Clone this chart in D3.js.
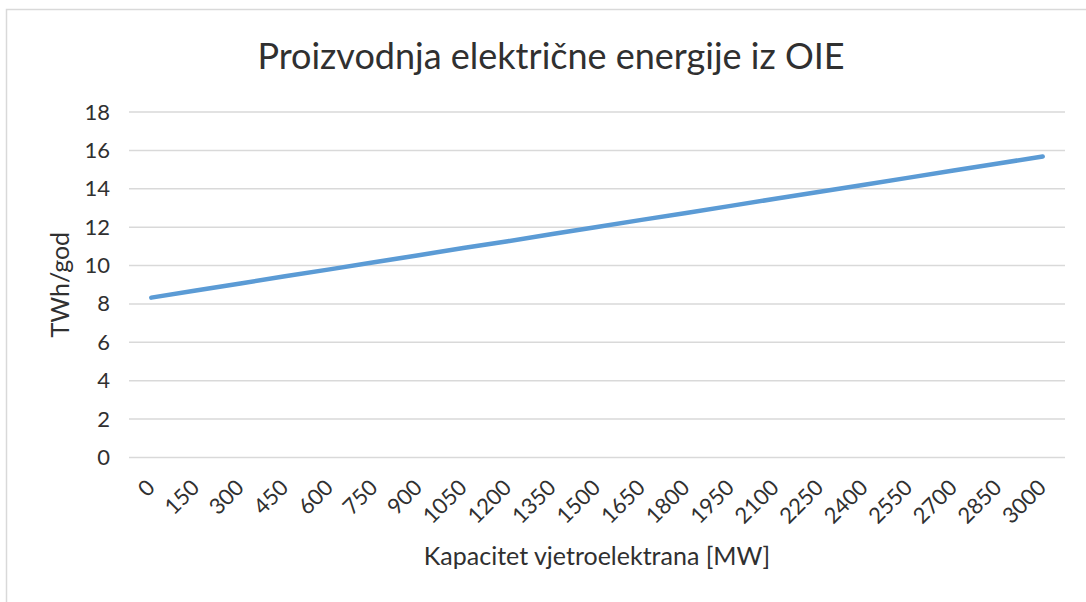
<!DOCTYPE html>
<html>
<head>
<meta charset="utf-8">
<script src="https://cdn.jsdelivr.net/npm/d3@7"></script>
<style>
  html, body { margin: 0; padding: 0; background: #fff; }
  svg { display: block; }
  text { font-family: Lato, "Open Sans", sans-serif; fill: #303030; }
</style>
</head>
<body>
<svg id="chart" width="1086" height="602"></svg>
<script>
// Installed wind capacity (MW) and annual production from renewables (TWh/year)
const capacities = [0, 150, 300, 450, 600, 750, 900, 1050, 1200, 1350, 1500,
                    1650, 1800, 1950, 2100, 2250, 2400, 2550, 2700, 2850, 3000];
const production = [8.33, 8.70, 9.07, 9.44, 9.80, 10.17, 10.54, 10.91, 11.27, 11.64, 12.01,
                    12.38, 12.74, 13.11, 13.48, 13.85, 14.21, 14.58, 14.95, 15.32, 15.68];
const yTicks = [0, 2, 4, 6, 8, 10, 12, 14, 16, 18];

const titleText = "Proizvodnja električne energije iz OIE";
const xTitle = "Kapacitet vjetroelektrana [MW]";
const yTitle = "TWh/god";

const textColor = "#303030";
const svg = d3.select("#chart");
const plot = { left: 129, right: 1065, top: 112, bottom: 457.5 };

// chart frame
svg.append("rect")
  .attr("x", 6.5).attr("y", 9.5)
  .attr("width", 1100).attr("height", 620)
  .attr("fill", "#fff")
  .attr("stroke", "#d9d9d9").attr("stroke-width", 1.5);

const x = d3.scaleBand()
  .domain(capacities)
  .range([plot.left, plot.right]);

const y = d3.scaleLinear()
  .domain([0, 18])
  .range([plot.bottom, plot.top]);

// horizontal gridlines
svg.append("g")
  .selectAll("line")
  .data(yTicks)
  .join("line")
  .attr("x1", plot.left).attr("x2", plot.right)
  .attr("y1", d => y(d)).attr("y2", d => y(d))
  .attr("stroke", "#d9d9d9").attr("stroke-width", 1.5);

// y axis labels
const yAxis = d3.axisLeft(y).tickValues(yTicks).tickSize(0).tickPadding(0);
const gy = svg.append("g")
  .attr("transform", `translate(${110},0)`)
  .call(yAxis);
gy.select(".domain").remove();
gy.selectAll("text")
  .style("font-family", "Lato, 'Open Sans', sans-serif")
  .style("font-size", "22px")
  .attr("fill", textColor);

// x axis labels, rotated
const xAxis = d3.axisBottom(x).tickSize(0).tickPadding(0);
const gx = svg.append("g")
  .attr("transform", `translate(0,${474})`)
  .call(xAxis);
gx.select(".domain").remove();
gx.selectAll("text")
  .style("font-family", "Lato, 'Open Sans', sans-serif")
  .style("font-size", "22px")
  .attr("fill", textColor)
  .attr("text-anchor", "end")
  .attr("dy", "0.7em")
  .attr("transform", "translate(-6,4) rotate(-45)");

// data line
const line = d3.line()
  .x((d, i) => x(capacities[i]) + x.bandwidth() / 2)
  .y(d => y(d));

svg.append("path")
  .datum(production)
  .attr("d", line)
  .attr("fill", "none")
  .attr("stroke", "#5b9bd5")
  .attr("stroke-width", 4.5)
  .attr("stroke-linecap", "round")
  .attr("stroke-linejoin", "round");

// titles
svg.append("text")
  .attr("x", 551).attr("y", 69)
  .attr("text-anchor", "middle")
  .style("font-size", "36px")
  .attr("fill", textColor)
  .text(titleText);

svg.append("text")
  .attr("x", (plot.left + plot.right) / 2).attr("y", 565)
  .attr("text-anchor", "middle")
  .style("font-size", "25px")
  .attr("fill", textColor)
  .text(xTitle);

svg.append("text")
  .attr("transform", `translate(69,${(plot.top + plot.bottom) / 2}) rotate(-90)`)
  .attr("text-anchor", "middle")
  .style("font-size", "25px")
  .attr("fill", textColor)
  .text(yTitle);
</script>
</body>
</html>
